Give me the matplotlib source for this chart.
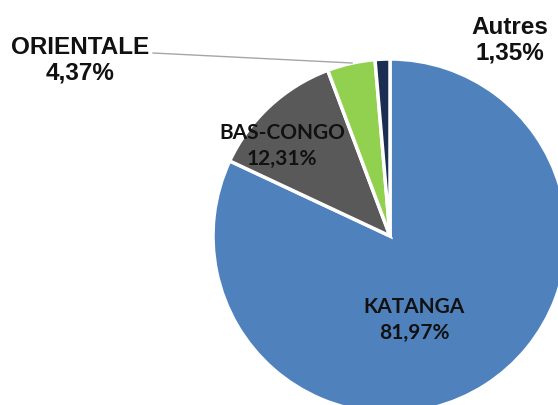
import matplotlib
matplotlib.use("Agg")
import matplotlib.pyplot as plt

# data
regions = ["KATANGA", "BAS-CONGO", "ORIENTALE", "Autres"]
shares = [81.97, 12.31, 4.37, 1.35]
colors = ["#4F81BD", "#595959", "#92D050", "#1C2F52"]

W, H = 558, 406

fig = plt.figure(figsize=(W / 100, H / 100), dpi=100, facecolor="white")
ax = fig.add_axes([0, 0, 1, 1])

# pie placed in pixel coordinates (y up), partly clipped like the original
cx, cy, r = 390, H - 237, 177
ax.pie(
    shares,
    colors=colors,
    startangle=90,
    counterclock=False,
    center=(cx, cy),
    radius=r,
    wedgeprops=dict(edgecolor="white", linewidth=2.5),
)
ax.set_xlim(0, W)
ax.set_ylim(0, H)
ax.set_aspect("equal")
ax.axis("off")


def lab(i):
    return f"{regions[i]}\n{shares[i]:.2f}%".replace(".", ",")


arial = dict(family="Liberation Sans", fontweight="bold", fontsize=17.5,
             color="#111111", ha="center", va="center", linespacing=1.15)
calib = dict(family="Lato", fontweight="bold", fontsize=15,
             color="#111111", ha="center", va="center", linespacing=1.42)

ax.text(414, H - 320, lab(0), **calib)
ax.text(282, H - 146, lab(1), **calib)
ax.text(80, H - 60, lab(2), **arial)
ax.text(510, H - 40, lab(3), **arial)

# leader line for ORIENTALE
ax.plot([153, 352], [H - 54, H - 64], color="#A6A6A6", lw=1)

fig.savefig("out.png", dpi=100, facecolor="white")
